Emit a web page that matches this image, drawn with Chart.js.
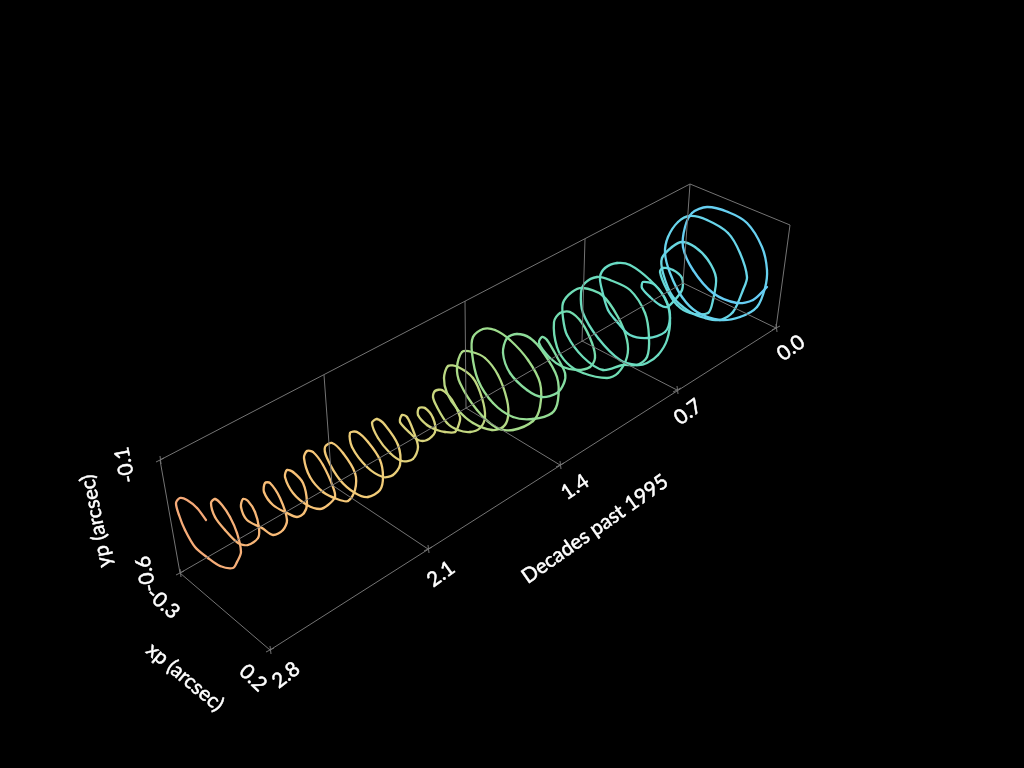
<!DOCTYPE html>
<html>
<head>
<meta charset="utf-8">
<title>Polar motion</title>
<script src="https://cdn.jsdelivr.net/npm/chart.js@4/dist/chart.umd.min.js"></script>
<style>
  html, body { margin: 0; padding: 0; background: #000; }
  #grafico { display: block; }
</style>
</head>
<body>
<canvas id="grafico" width="1024" height="768"></canvas>
<script>
var curvaX = [206,197,187,180,176,179,185,195,208,220,233,237,241,237,230,222,215,211,215,225,238,248,258,259,255,248,243,241,247,262,273,283,287,280,270,265,264,273,287,297,304,307,303,293,287,285,293,307,320,328,335,333,323,313,307,304,310,323,337,348,355,355,343,332,325,327,340,355,368,380,383,380,368,357,350,352,367,383,393,400,398,385,377,372,378,390,402,413,418,413,407,402,400,410,418,427,435,433,425,419,418,427,437,445,455,459,460,452,442,435,433,437,447,458,470,480,485,482,473,458,448,444,447,458,473,492,503,508,507,498,485,472,462,457,460,477,497,513,533,540,540,528,510,495,483,473,472,478,493,513,533,552,558,557,543,530,517,507,503,510,527,542,557,564,565,557,547,542,539,550,563,577,590,595,592,582,570,560,554,557,567,583,607,618,627,627,618,602,583,572,563,563,567,583,603,623,637,647,649,645,630,610,597,585,581,583,598,620,637,647,658,667,670,665,650,630,617,605,600,602,608,618,630,648,665,670,667,655,643,642,650,660,667,673,682,682,673,663,660,667,677,690,708,713,716,708,695,682,672,662,663,673,690,705,720,733,743,747,740,728,707,690,678,668,665,670,682,697,720,740,757,765,767,762,747,728,707,692,685,683,693,713,737,753,767];
var curvaY = [520,508,500,498,503,515,530,547,558,566,568,562,552,533,517,505,499,503,517,530,543,545,538,528,512,501,499,507,520,528,535,530,520,498,483,483,492,505,513,517,513,503,483,472,470,477,493,505,509,505,497,487,465,452,451,458,477,492,499,501,490,473,453,443,447,458,480,493,497,490,477,460,442,432,433,447,467,477,475,465,445,425,419,423,438,453,461,459,447,430,417,415,422,433,440,440,432,418,408,408,415,425,430,432,432,424,417,400,390,391,397,407,423,430,432,428,417,398,378,367,366,378,393,410,423,430,427,417,400,375,358,352,352,367,383,410,428,430,421,407,383,360,340,330,329,337,353,380,403,417,419,413,400,377,352,338,334,338,353,373,390,397,393,383,373,357,340,337,343,358,367,370,367,358,343,323,312,313,322,347,363,373,378,373,357,340,317,295,288,292,303,318,335,357,370,365,365,357,337,313,290,280,277,283,293,313,338,360,365,363,355,340,318,298,280,265,263,268,277,290,310,323,335,338,332,318,303,285,282,288,297,305,307,302,290,278,270,268,272,290,305,313,313,300,278,260,247,242,247,258,273,297,312,318,320,312,290,277,253,233,220,216,222,237,253,273,297,312,320,317,307,288,270,247,223,212,207,213,227,247,270,293,303,300,287];

// colour along the curve, from the 2.8 end to the 0.0 end
var coresPos = [0, 0.12, 0.25, 0.38, 0.5, 0.62, 0.78, 0.9, 1];
var coresCurva = ['#f5a878', '#f8bd77', '#f2cd78', '#c9d67e', '#9fdc8c', '#72dcaf', '#68dcc8', '#68d6e8', '#66ccf5'];

// box edges, grid lines and tick crosses, null breaks the line
var caixaX = [160,690,790,776,270,180,160,null,180,683,776,null,690,683,null,324,332,428,null,465,466,560,null,585,582,677,
  null,156,164,null,160,161,null,176,184,null,180,181,null,266,274,null,270,271,null,424,432,null,428,429,null,556,564,null,560,561,null,673,681,null,677,678,null,772,780,null,776,777];
var caixaY = [460,184,225,328,650,573,460,null,573,283,328,null,184,283,null,375,485,549,null,301,408,465,null,239,341,390,
  null,462,458,null,456,464,null,575,571,null,569,577,null,652,648,null,646,654,null,551,547,null,545,553,null,467,463,null,461,469,null,392,388,null,386,394,null,330,326,null,324,332];

// axis texts, picture position and rotation in degrees
var rotulos = ['0.0', '0.7', '1.4', '2.1', '2.8', '0.2', '-0.3', '-0.6', '-0.1', 'Decades past 1995', 'xp (arcsec)', 'yp (arcsec)'];
var rotulosX = [791, 688, 575, 441, 286, 253, 163, 146, 125, 595, 185, 96];
var rotulosY = [348, 412, 487, 574, 675, 678, 603, 574, 465, 529, 677, 521];
var rotulosAng = [-36, -36, -34, -36, -38, 44, 42, -101, -101, -35, 40, -101];

function hexParaRgb(h) {
  return [parseInt(h.substr(1, 2), 16), parseInt(h.substr(3, 2), 16), parseInt(h.substr(5, 2), 16)];
}

function corNaPosicao(p) {
  for (var i = 1; i < coresPos.length; i++) {
    if (p <= coresPos[i]) {
      var f = (p - coresPos[i - 1]) / (coresPos[i] - coresPos[i - 1]);
      var a = hexParaRgb(coresCurva[i - 1]);
      var b = hexParaRgb(coresCurva[i]);
      return 'rgb(' + Math.round(a[0] + (b[0] - a[0]) * f) + ',' + Math.round(a[1] + (b[1] - a[1]) * f) + ',' + Math.round(a[2] + (b[2] - a[2]) * f) + ')';
    }
  }
  return coresCurva[coresCurva.length - 1];
}

function juntar(xs, ys) {
  return xs.map(function (x, i) {
    return x === null ? { x: null, y: null } : { x: x, y: ys[i] };
  });
}

var pluginRotulos = {
  id: 'rotulos',
  afterDraw: function (chart) {
    var ctx = chart.ctx;
    ctx.save();
    ctx.fillStyle = '#fff';
    ctx.strokeStyle = '#fff';
    ctx.lineWidth = 0.5;
    ctx.font = '20.5px Lato';
    ctx.textAlign = 'center';
    ctx.textBaseline = 'middle';
    rotulos.forEach(function (texto, i) {
      ctx.save();
      ctx.translate(chart.scales.x.getPixelForValue(rotulosX[i]), chart.scales.y.getPixelForValue(rotulosY[i]));
      ctx.rotate(rotulosAng[i] * Math.PI / 180);
      ctx.fillText(texto, 0, 0);
      ctx.strokeText(texto, 0, 0);
      ctx.restore();
    });
    ctx.restore();
  }
};

var ctx = document.getElementById('grafico').getContext('2d');

var meuGrafico = new Chart(ctx, {
  type: 'scatter',
  data: {
    datasets: [{
      label: 'caixa',
      data: juntar(caixaX, caixaY),
      showLine: true,
      spanGaps: false,
      borderColor: '#747474',
      borderWidth: 1,
      pointRadius: 0
    }, {
      label: 'curva',
      data: juntar(curvaX, curvaY),
      showLine: true,
      borderWidth: 2.3,
      tension: 0.3,
      pointRadius: 0,
      borderCapStyle: 'round',
      borderJoinStyle: 'round',
      segment: {
        borderColor: function (c) {
          return corNaPosicao(c.p0DataIndex / (curvaX.length - 1));
        }
      }
    }]
  },
  options: {
    responsive: false,
    animation: false,
    layout: { padding: 0 },
    plugins: { legend: { display: false }, tooltip: { enabled: false } },
    scales: {
      x: { type: 'linear', display: false, min: 0, max: 1024 },
      y: { type: 'linear', display: false, min: 0, max: 768, reverse: true }
    }
  },
  plugins: [pluginRotulos]
});
</script>
</body>
</html>
